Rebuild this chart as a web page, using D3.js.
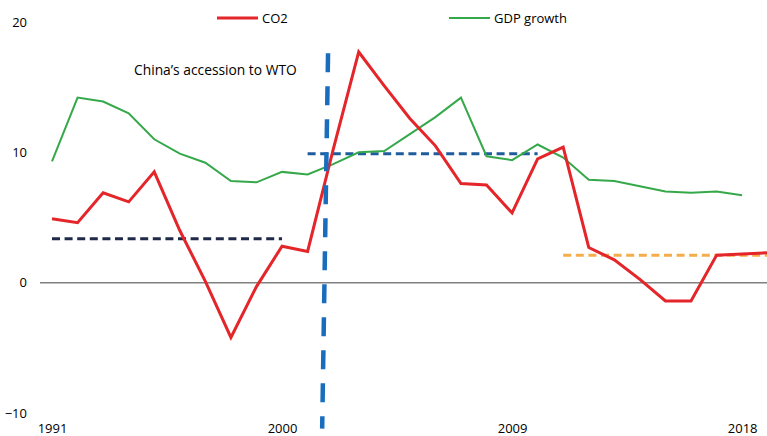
<!DOCTYPE html>
<html>
<head>
<meta charset="utf-8">
<script src="https://cdn.jsdelivr.net/npm/d3@7"></script>
<style>
  body { margin: 0; background: #fff; }
  svg text { font-family: "Open Sans", "Liberation Sans", sans-serif; fill: #000; }
</style>
</head>
<body>
<svg id="chart"></svg>
<script>
// years on the category axis
var years = [1991, 1992, 1993, 1994, 1995, 1996, 1997, 1998, 1999, 2000,
             2001, 2002, 2003, 2004, 2005, 2006, 2007, 2008, 2009, 2010,
             2011, 2012, 2013, 2014, 2015, 2016, 2017, 2018, 2019];

// CO2 emissions growth, %
var co2 = [4.9, 4.6, 6.9, 6.2, 8.5, 4.0, 0.1, -4.2, -0.3, 2.8,
           2.4, 10.2, 17.7, 15.1, 12.6, 10.5, 7.6, 7.5, 5.35, 9.5,
           10.4, 2.7, 1.75, 0.25, -1.4, -1.4, 2.1, 2.2, 2.3];

// GDP growth, % (no value for 2019)
var gdp = [9.3, 14.2, 13.9, 13.0, 11.0, 9.9, 9.2, 7.8, 7.7, 8.5,
           8.3, 9.1, 10.0, 10.1, 11.4, 12.7, 14.2, 9.7, 9.4, 10.6,
           9.6, 7.9, 7.8, 7.4, 7.0, 6.9, 7.0, 6.7, null];

// period averages of CO2 growth (dashed lines)
var avgFrom = [1991, 2001, 2011];
var avgTo = [2000, 2010, 2019];
var avgValue = [3.37, 9.9, 2.1];
var avgColor = ["#1f2a48", "#1f5c9c", "#f5ad4c"];

// WTO accession marker: x (year) and y ends
var wtoX = [2001.8, 2001.57];
var wtoY = [17.6, -11.2];
var wtoLabel = "China\u2019s accession to WTO";

var yTicks = [-10, 0, 10, 20];
var xTicks = [1991, 2000, 2009, 2018];

var width = 767, height = 436;

var svg = d3.select("#chart")
    .attr("width", width)
    .attr("height", height);

// scales
var x = d3.scaleLinear()
    .domain([1991, 2019])
    .range([52, 52 + 28 * 25.56]);

var y = d3.scaleLinear()
    .domain([-10, 20])
    .range([413, 22]);

// y axis labels only
var yAxis = svg.append("g")
    .attr("transform", "translate(31,0)")
    .call(d3.axisLeft(y).tickValues(yTicks).tickSize(0).tickPadding(4));
yAxis.select(".domain").remove();
yAxis.selectAll("text").style("font-size", "13px");

// x axis labels only
var xAxis = svg.append("g")
    .attr("transform", "translate(0,421)")
    .call(d3.axisBottom(x).tickValues(xTicks).tickFormat(d3.format("d")).tickSize(0).tickPadding(3));
xAxis.select(".domain").remove();
xAxis.selectAll("text").style("font-size", "13px");

// zero line
svg.append("line")
    .attr("x1", 40)
    .attr("x2", width)
    .attr("y1", y(0))
    .attr("y2", y(0))
    .attr("stroke", "#808080")
    .attr("stroke-width", 1.5);

// period average dashed lines
avgValue.forEach(function(v, i) {
    svg.append("line")
        .attr("x1", x(avgFrom[i]))
        .attr("x2", x(avgTo[i]))
        .attr("y1", y(v))
        .attr("y2", y(v))
        .attr("stroke", avgColor[i])
        .attr("stroke-width", 3)
        .attr("stroke-dasharray", "8,4.6");
});

// GDP line
var gdpLine = d3.line()
    .defined(function(d) { return d != null; })
    .x(function(d, i) { return x(years[i]); })
    .y(function(d) { return y(d); });

svg.append("path")
    .datum(gdp)
    .attr("fill", "none")
    .attr("stroke", "#35a94a")
    .attr("stroke-width", 2)
    .attr("d", gdpLine);

// CO2 line
var co2Line = d3.line()
    .x(function(d, i) { return x(years[i]); })
    .y(function(d) { return y(d); });

svg.append("path")
    .datum(co2)
    .attr("fill", "none")
    .attr("stroke", "#e4252a")
    .attr("stroke-width", 3)
    .attr("d", co2Line);

// WTO marker
svg.append("line")
    .attr("x1", x(wtoX[0]))
    .attr("x2", x(wtoX[1]))
    .attr("y1", y(wtoY[0]))
    .attr("y2", y(wtoY[1]))
    .attr("stroke", "#1a6dbd")
    .attr("stroke-width", 4.5)
    .attr("stroke-dasharray", "19,14");

svg.append("text")
    .attr("x", 134)
    .attr("y", 75)
    .style("font-size", "13.8px")
    .text(wtoLabel);

// legend
var legend = [
    { name: "CO2", color: "#e4252a", w: 3, x: 217 },
    { name: "GDP growth", color: "#35a94a", w: 2, x: 449 }
];
legend.forEach(function(d) {
    svg.append("line")
        .attr("x1", d.x)
        .attr("x2", d.x + 41)
        .attr("y1", 18)
        .attr("y2", 18)
        .attr("stroke", d.color)
        .attr("stroke-width", d.w);
    svg.append("text")
        .attr("x", d.x + 45)
        .attr("y", 23)
        .style("font-size", "13px")
        .text(d.name);
});
</script>
</body>
</html>
